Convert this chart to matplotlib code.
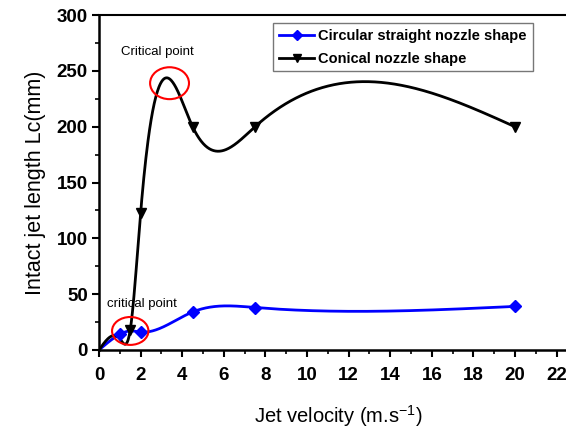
import numpy as np
import matplotlib
matplotlib.use("Agg")
from matplotlib import pyplot as plt
from matplotlib.patches import Ellipse

plt.rcParams['font.family'] = ['Liberation Sans', 'DejaVu Sans']
plt.rcParams['mathtext.fontset'] = 'custom'
plt.rcParams['mathtext.rm'] = 'Liberation Sans'
plt.rcParams['axes.unicode_minus'] = False

# data
velocity = [0, 1, 1.5, 2, 4.5, 7.5, 20]
circular_len = [0, 14, 17, 16, 34, 38, 39]
conical_len = [0, 10, 18, 123, 200, 200, 200]
circular_marks = [1, 2, 4.5, 7.5, 20]
conical_marks = [1.5, 2, 4.5, 7.5, 20]

x_ticks = list(range(0, 23, 2))
y_ticks = [0, 50, 100, 150, 200, 250, 300]


def natural_spline(x, y, xs):
    """Natural cubic spline through (x, y), evaluated on xs"""
    x = np.asarray(x, float)
    y = np.asarray(y, float)
    n = len(x)
    h = np.diff(x)
    A = np.zeros((n, n))
    b = np.zeros(n)
    A[0, 0] = A[-1, -1] = 1
    for i in range(1, n - 1):
        A[i, i - 1] = h[i - 1]
        A[i, i] = 2 * (h[i - 1] + h[i])
        A[i, i + 1] = h[i]
        b[i] = 6 * ((y[i + 1] - y[i]) / h[i] - (y[i] - y[i - 1]) / h[i - 1])
    m = np.linalg.solve(A, b)
    idx = np.clip(np.searchsorted(x, xs) - 1, 0, n - 2)
    x0, x1 = x[idx], x[idx + 1]
    hh = x1 - x0
    t0, t1 = x1 - xs, xs - x0
    return (m[idx] * t0 ** 3 / (6 * hh) + m[idx + 1] * t1 ** 3 / (6 * hh)
            + (y[idx] / hh - m[idx] * hh / 6) * t0
            + (y[idx + 1] / hh - m[idx + 1] * hh / 6) * t1)


xs = np.linspace(velocity[0], velocity[-1], 800)

fig = plt.figure(figsize=(5.66, 4.32), dpi=100)
ax = fig.add_axes([0.175, 0.19, 0.845, 0.775])

ax.plot(xs, natural_spline(velocity, circular_len, xs), color='#0000ff', lw=2)
ax.plot(circular_marks, np.interp(circular_marks, velocity, circular_len), 'D',
        color='#0000ff', ms=6.5, zorder=3)
ax.plot(xs, natural_spline(velocity, conical_len, xs), color='black', lw=2)
ax.plot(conical_marks, np.interp(conical_marks, velocity, conical_len), 'v',
        color='black', ms=7.5, zorder=3)

# legend proxies
ax.plot([], [], color='#0000ff', lw=2, marker='D', ms=5, label='Circular straight nozzle shape')
ax.plot([], [], color='black', lw=2, marker='v', ms=6, label='Conical nozzle shape')
ax.legend(loc='upper right', bbox_to_anchor=(0.913, 0.985), frameon=True, fancybox=False,
          edgecolor='#555555', prop={'weight': 'bold', 'size': 10.5},
          handlelength=2.4, handletextpad=0.3, borderpad=0.4, labelspacing=0.6,
          borderaxespad=0.2)

ax.add_patch(Ellipse((3.39, 239), 1.87, 28.6, fill=False, edgecolor='red', lw=1.5, zorder=4))
ax.add_patch(Ellipse((1.5, 17), 1.75, 25, fill=False, edgecolor='red', lw=1.5, zorder=4))
ax.text(2.8, 262, 'Critical point', fontsize=9.5, ha='center', va='bottom')
ax.text(2.05, 36, 'critical point', fontsize=9.5, ha='center', va='bottom')

ax.set_xlim(0, 23)
ax.set_ylim(0, 300)
ax.set_xticks(x_ticks)
ax.set_yticks(y_ticks)
ax.set_xticks(np.arange(1, 23, 2), minor=True)
ax.set_yticks(np.arange(25, 300, 50), minor=True)
ax.tick_params(which='major', direction='out', length=5, width=1.5, labelsize=13.5)
ax.tick_params(which='minor', direction='out', length=3, width=1.2)
for lab in ax.get_xticklabels() + ax.get_yticklabels():
    lab.set_fontweight('bold')
ax.tick_params(axis='x', pad=7)
ax.tick_params(axis='y', pad=3)

ax.spines['right'].set_visible(False)
ax.spines['left'].set_linewidth(1.8)
ax.spines['bottom'].set_linewidth(1.8)
ax.spines['top'].set_linewidth(1.5)

ax.set_xlabel('Jet velocity (m.s$^{-1}$)', fontsize=14.5, labelpad=14)
ax.set_ylabel('Intact jet length Lc(mm)', fontsize=15.5, labelpad=8)

fig.savefig('out.png', dpi=100)
